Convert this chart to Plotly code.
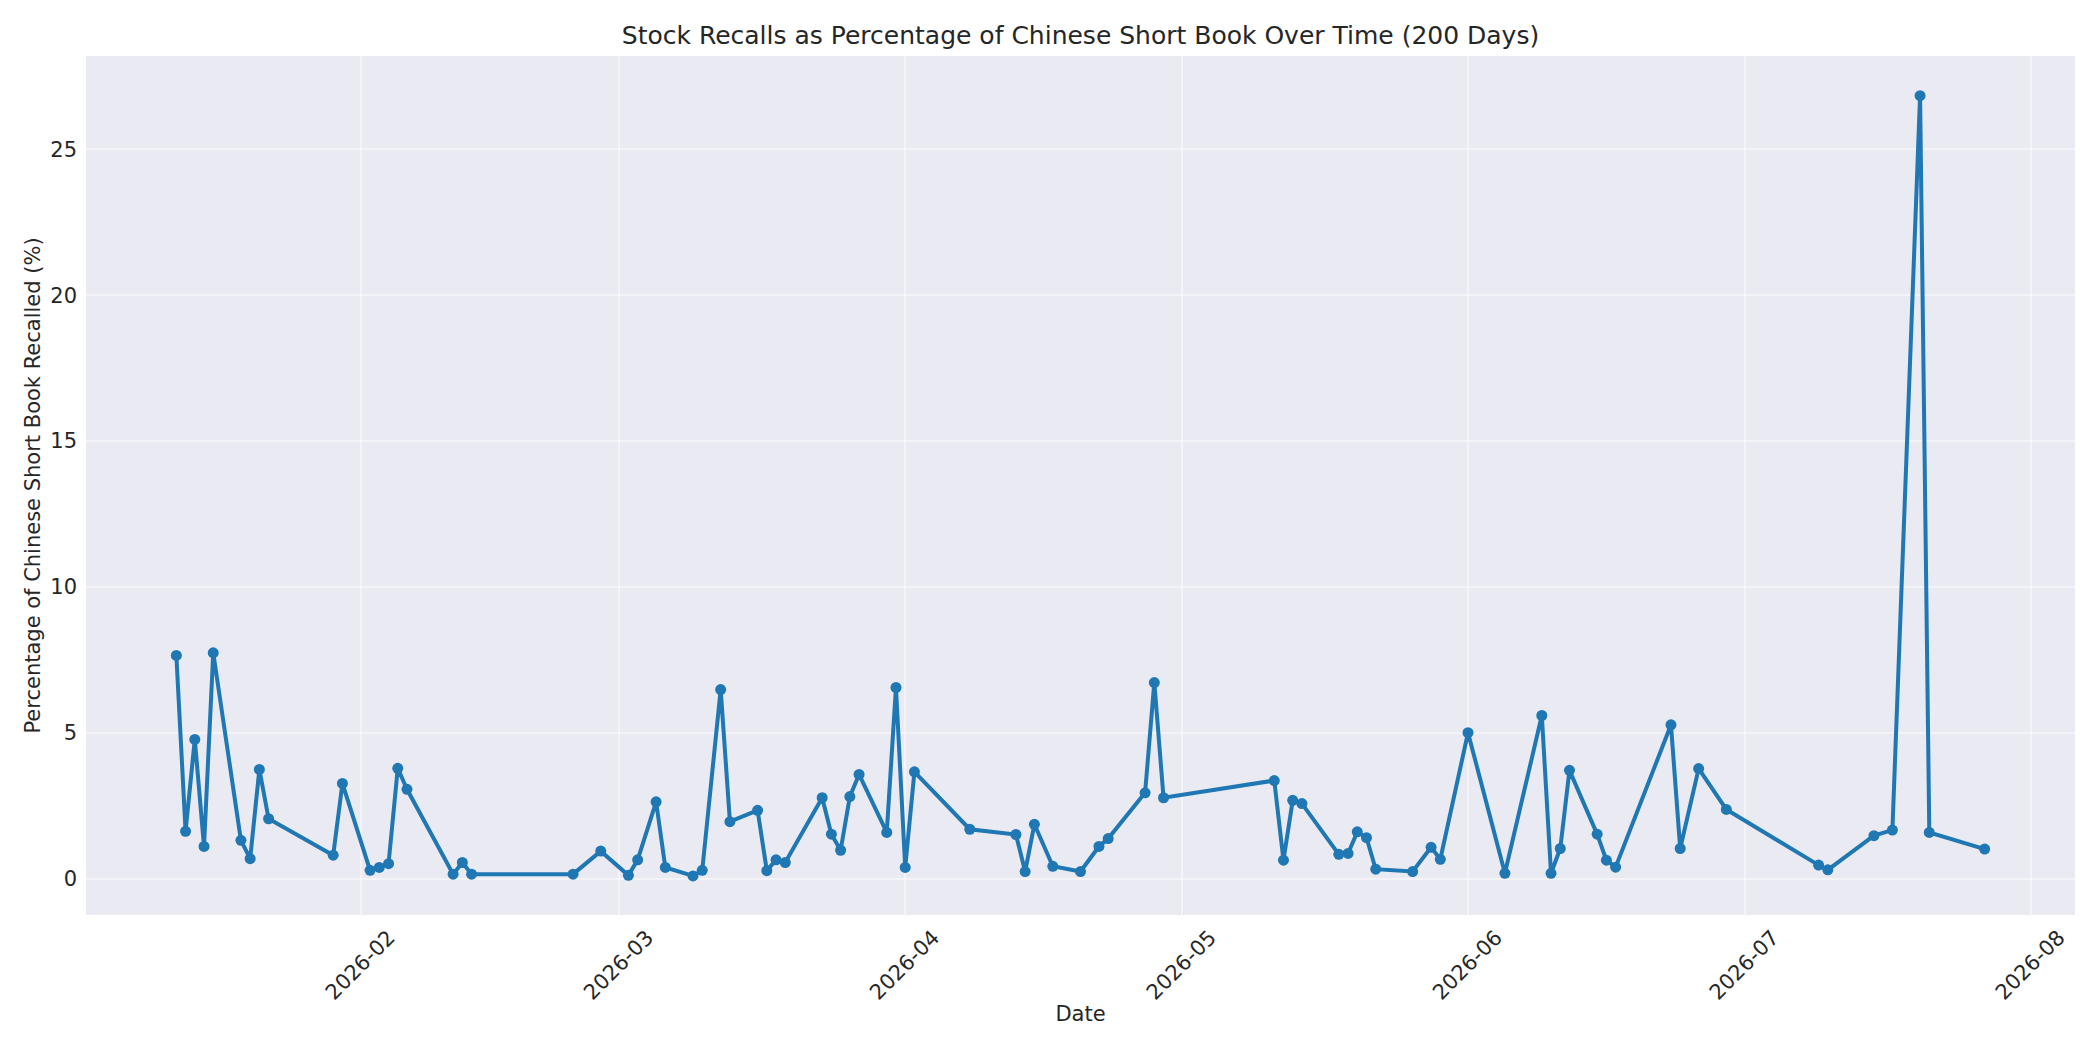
import plotly.graph_objects as go

dates = [
    "2026-01-12", "2026-01-13", "2026-01-14", "2026-01-15", "2026-01-16",
    "2026-01-19", "2026-01-20", "2026-01-21", "2026-01-22",
    "2026-01-29", "2026-01-30",
    "2026-02-02", "2026-02-03", "2026-02-04", "2026-02-05", "2026-02-06",
    "2026-02-11", "2026-02-12", "2026-02-13",
    "2026-02-24", "2026-02-27",
    "2026-03-02", "2026-03-03", "2026-03-05", "2026-03-06",
    "2026-03-09", "2026-03-10", "2026-03-12", "2026-03-13",
    "2026-03-16", "2026-03-17", "2026-03-18", "2026-03-19",
    "2026-03-23", "2026-03-24", "2026-03-25", "2026-03-26", "2026-03-27",
    "2026-03-30", "2026-03-31", "2026-04-01", "2026-04-02",
    "2026-04-08",
    "2026-04-13", "2026-04-14", "2026-04-15", "2026-04-17",
    "2026-04-20", "2026-04-22", "2026-04-23",
    "2026-04-27", "2026-04-28", "2026-04-29",
    "2026-05-11", "2026-05-12", "2026-05-13", "2026-05-14",
    "2026-05-18", "2026-05-19", "2026-05-20", "2026-05-21", "2026-05-22",
    "2026-05-26", "2026-05-28", "2026-05-29",
    "2026-06-01", "2026-06-05",
    "2026-06-09", "2026-06-10", "2026-06-11", "2026-06-12",
    "2026-06-15", "2026-06-16", "2026-06-17",
    "2026-06-23", "2026-06-24", "2026-06-26",
    "2026-06-29",
    "2026-07-09", "2026-07-10",
    "2026-07-15", "2026-07-17",
    "2026-07-20", "2026-07-21",
    "2026-07-27",
]

recall_pct = [
    7.65, 1.62, 4.77, 1.10, 7.74,
    1.31, 0.68, 3.74, 2.05,
    0.80, 3.26,
    0.28, 0.38, 0.51, 3.78, 3.06,
    0.15, 0.55, 0.15,
    0.15, 0.94,
    0.11, 0.64, 2.63, 0.38,
    0.09, 0.28, 6.48, 1.95,
    2.34, 0.27, 0.64, 0.55,
    2.77, 1.52, 0.97, 2.81, 3.57,
    1.58, 6.55, 0.38, 3.66,
    1.69,
    1.51, 0.24, 1.86, 0.42,
    0.24, 1.10, 1.37,
    2.94, 6.72, 2.77,
    3.36, 0.63, 2.68, 2.57,
    0.83, 0.86, 1.60, 1.40, 0.32,
    0.24, 1.07, 0.66,
    5.00, 0.18,
    5.59, 0.18, 1.03, 3.71,
    1.52, 0.63, 0.39,
    5.27, 1.03, 3.77,
    2.37,
    0.46, 0.30,
    1.47, 1.66,
    26.84, 1.58,
    1.01,
]

TEXT = "#262626"
FONT = "DejaVu Sans"

fig = go.Figure()
fig.add_trace(go.Scatter(
    x=dates,
    y=recall_pct,
    mode="lines+markers",
    line=dict(color="#1f77b4", width=4),
    marker=dict(color="#1f77b4", size=11),
    showlegend=False,
))

fig.update_layout(
    width=2100,
    height=1050,
    margin=dict(l=86, r=25, t=56, b=135, autoexpand=False),
    paper_bgcolor="white",
    plot_bgcolor="#EAEAF2",
    font=dict(family=FONT, color=TEXT, size=21),
    title=dict(
        text="Stock Recalls as Percentage of Chinese Short Book Over Time (200 Days)",
        font=dict(size=25, color=TEXT),
        x=0.5, xref="paper", xanchor="center",
        y=1 - 35 / 1050, yref="container", yanchor="middle",
    ),
)
fig.update_xaxes(
    range=["2026-01-02 05:00", "2026-08-05 19:00"],
    tickformat="%Y-%m",
    dtick="M1",
    tick0="2026-01-01",
    tickangle=-45,
    ticklabelshift=28,
    ticklabelstandoff=5,
    showgrid=True,
    gridcolor="rgba(255,255,255,0.45)",
    gridwidth=2,
    zeroline=False,
    showline=False,
    ticks="",
    tickfont=dict(size=21),
    title=dict(text="Date", font=dict(size=21), standoff=2),
    automargin=False,
)
fig.update_yaxes(
    range=[-1.25, 28.2],
    tickvals=[0, 5, 10, 15, 20, 25],
    showgrid=True,
    gridcolor="rgba(255,255,255,0.45)",
    gridwidth=2,
    zeroline=False,
    showline=False,
    ticks="",
    ticklabelstandoff=8,
    tickfont=dict(size=21),
    title=dict(text="Percentage of Chinese Short Book Recalled (%)", font=dict(size=21), standoff=3),
    automargin=False,
)

fig.write_html(
    "out.html",
    config={"displayModeBar": False},
    post_script="document.body.style.margin='0';",
)
